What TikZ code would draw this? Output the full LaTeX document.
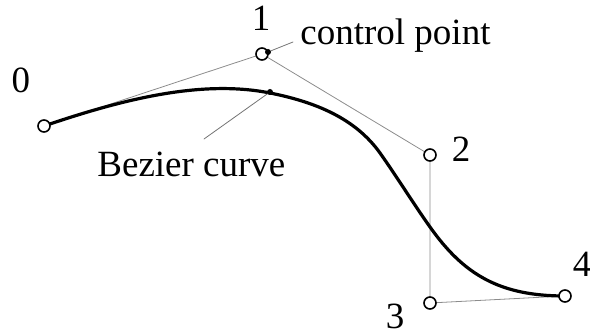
\documentclass[tikz,border=0pt]{standalone}
\usepackage{fontspec}
\setmainfont{Liberation Serif}
\begin{document}
\begin{tikzpicture}[x=0.5pt, y=-0.5pt, line cap=round,
  every node/.style={font=\fontsize{18.5}{22}\selectfont},
  ctrl/.style={circle, draw, fill=white, line width=0.8pt, inner sep=0pt, minimum size=6pt},
  poly/.style={draw=black!45, line width=0.4pt},
  lead/.style={draw=black!55, line width=0.4pt},
  dot/.style={circle, fill=black, inner sep=0pt, minimum size=3pt}]
\useasboundingbox (0,0) rectangle (590,335);

% ---------- control points ----------
\coordinate (c0) at (44,126);
\coordinate (c1) at (262,54);
\coordinate (c2) at (430,155);
\coordinate (c3) at (430,303);
\coordinate (c4) at (565,296);

% ---------- control polygon ----------
\draw[poly] (c0) -- (c1) -- (c2) -- (c3) -- (c4);

% ---------- Bezier curve ----------
\draw[line width=1.6pt] (c0) .. controls (119,100.5) and (200,79) .. (270,93)
  .. controls (315,102) and (355,118) .. (380,153)
  .. controls (397,177) and (413,203) .. (430,227)
  .. controls (464,275) and (500,296) .. (c4);

\foreach \i in {0,...,4}
  \node[ctrl] (p\i) at (c\i) {};

% ---------- labels ----------
\node[anchor=base] (n0) at (21,93) {0};
\node[anchor=base] (n1) at (261,31) {1};
\node[anchor=base] (n2) at (461,162) {2};
\node[anchor=base] (n3) at (395,329) {3};
\node[anchor=base] (n4) at (582,277) {4};

\node[dot] (cdot) at (268,52) {};
\node[dot] (bdot) at (270,92) {};
\coordinate (cend) at (293,42);
\coordinate (bend) at (204,139);
\node[anchor=base west, inner sep=0pt] (ctext) at (300,45) {control point};
\node[anchor=base west, inner sep=0pt] (btext) at (97,177) {Bezier curve};
\draw[lead] (cdot) -- (cend);
\draw[lead] (bdot) -- (bend);
\end{tikzpicture}
\end{document}
